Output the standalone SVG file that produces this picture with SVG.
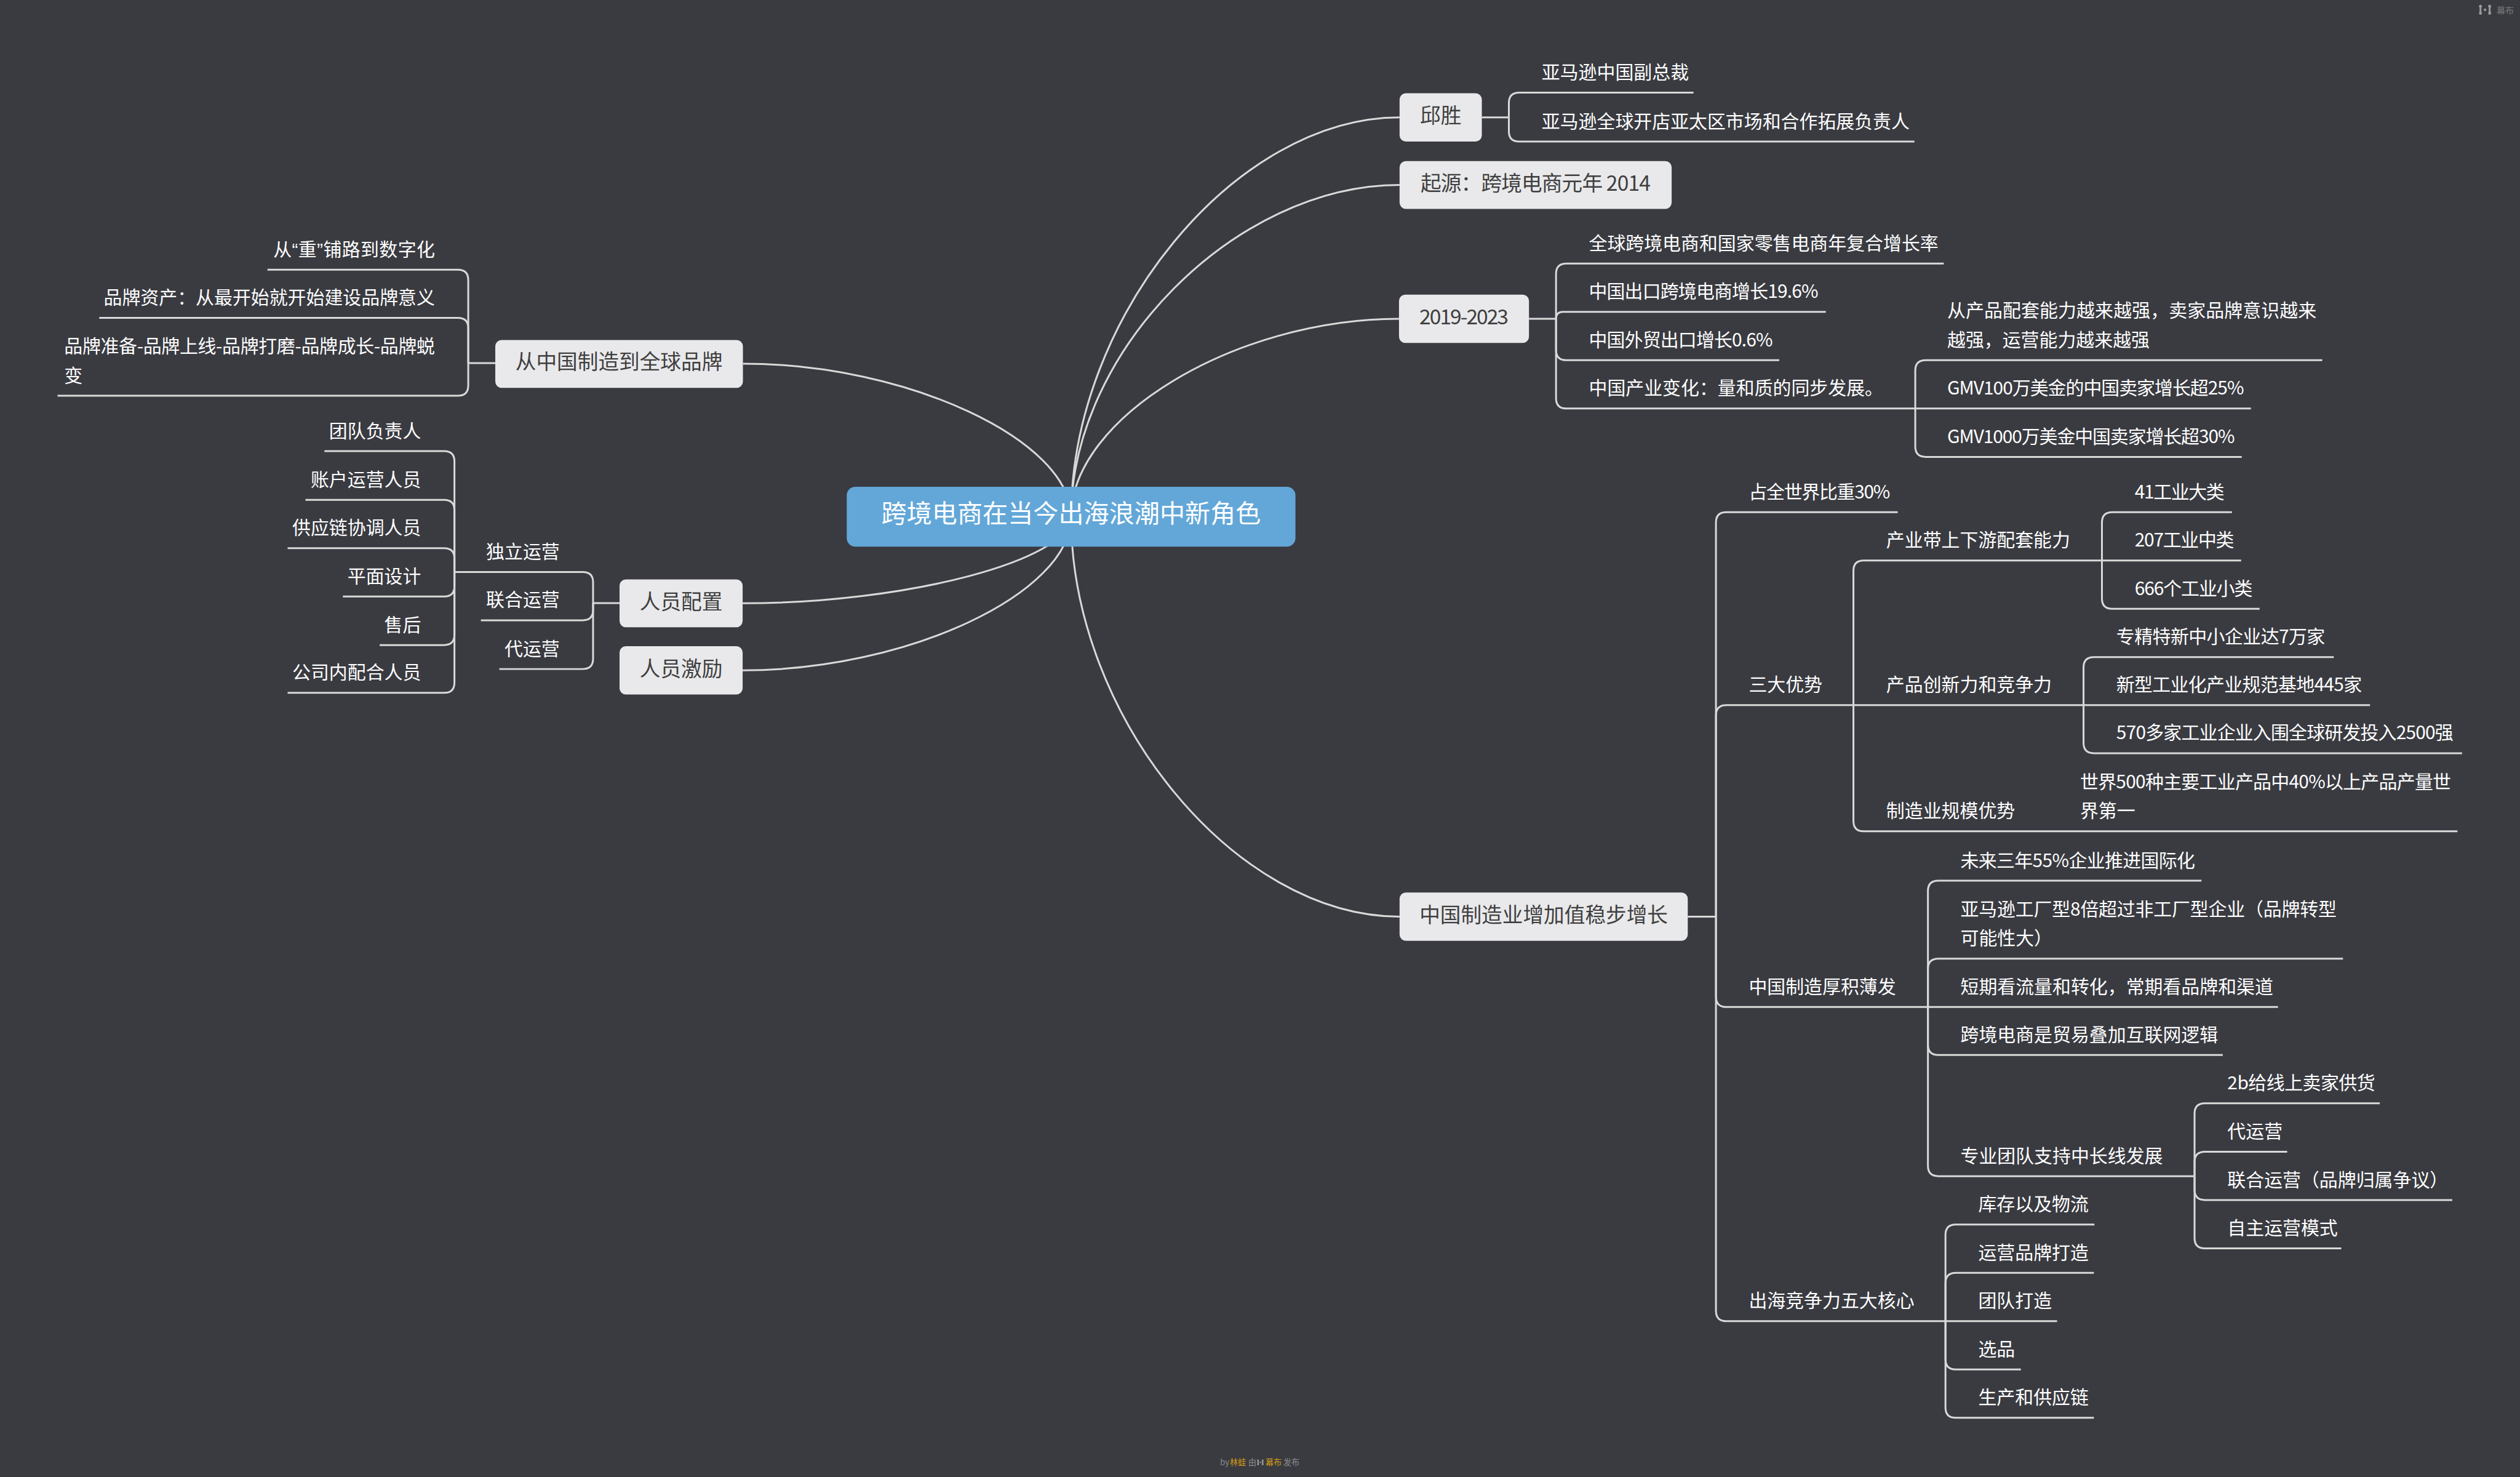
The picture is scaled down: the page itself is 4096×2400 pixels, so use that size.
<svg xmlns="http://www.w3.org/2000/svg" width="4096" height="2400" viewBox="0 0 4096 2400">
<defs>
<style>
.bg{fill:#3a3b41}
.ln{fill:none;stroke:#d9d9d9;stroke-width:3.2;stroke-linecap:butt;stroke-linejoin:round}
text{font-family:"Noto Sans CJK SC","Noto Sans",sans-serif}
.rootbox{fill:#63a7d8}
.roottx{fill:#ffffff;font-size:44px;text-anchor:middle}
.box{fill:#e9e9eb}
.btx{fill:#3f3f3f;font-size:36px;text-anchor:middle}
.lf{fill:#ffffff;font-size:32px}
.lfe{fill:#ffffff;font-size:32px;text-anchor:end}
.q{font-family:"Liberation Sans",sans-serif}
.wm{font-size:14px;fill:#8c8c8c}
.wo{fill:#d09a12}
.ic{fill:#9a9a9a}
.icl{stroke:#9a9a9a;stroke-width:2.4;fill:none}
</style>
</defs>
<rect class="bg" x="0" y="0" width="4096" height="2400"/>
<g transform="scale(0.935)">
<g id="connectors">
<path class="ln" d="M1862,898 C1862,551 2147.5,204 2433,204"/>
<path class="ln" d="M1862,898 C1862,609.75 2147.5,321.5 2433,321.5"/>
<path class="ln" d="M1862,898 C1862,726 2147,554 2432,554"/>
<path class="ln" d="M1862,898 C1862,1245.5 2147.5,1593 2433,1593"/>
<path class="ln" d="M1862,898 C1862,765 1576.75,632 1291.5,632"/>
<path class="ln" d="M1862,898 C1862,973.25 1576.5,1048.5 1291,1048.5"/>
<path class="ln" d="M1862,898 C1862,1031.5 1576.5,1165 1291,1165"/>
<path class="ln" d="M2576,204 H2623"/>
<path class="ln" d="M2623,204 V179 Q2623,161 2641,161 H2944"/>
<path class="ln" d="M2623,204 V228 Q2623,246 2641,246 H3328"/>
<path class="ln" d="M2658,554 H2705"/>
<path class="ln" d="M2705,554 V476 Q2705,458 2723,458 H3379"/>
<path class="ln" d="M2705,554 Q2705,542 2717,542 H3174"/>
<path class="ln" d="M2705,554 V608 Q2705,626 2723,626 H3093"/>
<path class="ln" d="M2705,554 V692 Q2705,710 2723,710 H3329.5"/>
<path class="ln" d="M3329.5,710 V644 Q3329.5,626 3347.5,626 H4037"/>
<path class="ln" d="M3329.5,710 H3913"/>
<path class="ln" d="M3329.5,710 V776 Q3329.5,794 3347.5,794 H3897"/>
<path class="ln" d="M2934,1593 H2983"/>
<path class="ln" d="M2983,1593 V908 Q2983,890 3001,890 H3299"/>
<path class="ln" d="M2983,1593 V1243.5 Q2983,1225.5 3001,1225.5 H3222"/>
<path class="ln" d="M2983,1593 V1732 Q2983,1750 3001,1750 H3351.5"/>
<path class="ln" d="M2983,1593 V2278 Q2983,2296 3001,2296 H3382"/>
<path class="ln" d="M3222,1225.5 V992 Q3222,974 3240,974 H3654"/>
<path class="ln" d="M3222,1225.5 H3622"/>
<path class="ln" d="M3222,1225.5 V1426.7 Q3222,1444.7 3240,1444.7 H4272"/>
<path class="ln" d="M3654,974 V908 Q3654,890 3672,890 H3880"/>
<path class="ln" d="M3654,974 H3896"/>
<path class="ln" d="M3654,974 V1040 Q3654,1058 3672,1058 H3928"/>
<path class="ln" d="M3622,1225.5 V1160 Q3622,1142 3640,1142 H4057"/>
<path class="ln" d="M3622,1225.5 H4120"/>
<path class="ln" d="M3622,1225.5 V1291 Q3622,1309 3640,1309 H4280"/>
<path class="ln" d="M3351.5,1750 V1548.5 Q3351.5,1530.5 3369.5,1530.5 H3827"/>
<path class="ln" d="M3351.5,1750 V1684 Q3351.5,1666 3369.5,1666 H4073"/>
<path class="ln" d="M3351.5,1750 H3960"/>
<path class="ln" d="M3351.5,1750 V1815.5 Q3351.5,1833.5 3369.5,1833.5 H3864"/>
<path class="ln" d="M3351.5,1750 V2026 Q3351.5,2044 3369.5,2044 H3815"/>
<path class="ln" d="M3815,2044 V1935.5 Q3815,1917.5 3833,1917.5 H4137"/>
<path class="ln" d="M3815,2044 V2019.5 Q3815,2001.5 3833,2001.5 H3976"/>
<path class="ln" d="M3815,2044 V2067.5 Q3815,2085.5 3833,2085.5 H4263"/>
<path class="ln" d="M3815,2044 V2151.5 Q3815,2169.5 3833,2169.5 H4070"/>
<path class="ln" d="M3382,2296 V2146 Q3382,2128 3400,2128 H3641"/>
<path class="ln" d="M3382,2296 V2230 Q3382,2212 3400,2212 H3640"/>
<path class="ln" d="M3382,2296 H3576"/>
<path class="ln" d="M3382,2296 V2362 Q3382,2380 3400,2380 H3513"/>
<path class="ln" d="M3382,2296 V2446 Q3382,2464 3400,2464 H3640"/>
<path class="ln" d="M861,631 H814"/>
<path class="ln" d="M814,631 V486.7 Q814,468.7 796,468.7 H465"/>
<path class="ln" d="M814,631 V570.3 Q814,552.3 796,552.3 H172.5"/>
<path class="ln" d="M814,631 V669.7 Q814,687.7 796,687.7 H100"/>
<path class="ln" d="M1077,1048 H1031"/>
<path class="ln" d="M1031,1048 V1012 Q1031,994 1013,994 H790"/>
<path class="ln" d="M1031,1048 V1060 Q1031,1078 1013,1078 H836"/>
<path class="ln" d="M1031,1048 V1144.7 Q1031,1162.7 1013,1162.7 H868"/>
<path class="ln" d="M790,994 V802 Q790,784 772,784 H564"/>
<path class="ln" d="M790,994 V886.7 Q790,868.7 772,868.7 H531"/>
<path class="ln" d="M790,994 V970.7 Q790,952.7 772,952.7 H500"/>
<path class="ln" d="M790,994 V1018.7 Q790,1036.7 772,1036.7 H596"/>
<path class="ln" d="M790,994 V1103 Q790,1121 772,1121 H660"/>
<path class="ln" d="M790,994 V1186 Q790,1204 772,1204 H500"/>
</g>

<g id="root"><rect class="rootbox" x="1472" y="846" width="780" height="104" rx="15"/><text class="roottx" x="1862" y="908.5">跨境电商在当今出海浪潮中新角色</text></g>

<g id="n-qiusheng"><rect class="box" x="2433" y="162" width="143" height="84" rx="11"/><text class="btx" x="2504.5" y="214">邱胜</text></g>
<g id="n-qs1"><text class="lf" x="2680" y="137">亚马逊中国副总裁</text></g>
<g id="n-qs2"><text class="lf" x="2680" y="222">亚马逊全球开店亚太区市场和合作拓展负责人</text></g>

<g id="n-origin"><rect class="box" x="2433" y="280" width="473" height="83" rx="11"/><text class="btx" x="2669.5" y="331.5" textLength="400" lengthAdjust="spacing">起源：跨境电商元年 2014</text></g>

<g id="n-2019"><rect class="box" x="2432" y="512" width="226" height="84" rx="11"/><text class="btx" x="2545" y="564" textLength="155" lengthAdjust="spacing">2019-2023</text></g>
<g id="n-2019a"><text class="lf" x="2762" y="434">全球跨境电商和国家零售电商年复合增长率</text></g>
<g id="n-2019b"><text class="lf" x="2762" y="518" textLength="399" lengthAdjust="spacing">中国出口跨境电商增长19.6%</text></g>
<g id="n-2019c"><text class="lf" x="2762" y="602" textLength="320" lengthAdjust="spacing">中国外贸出口增长0.6%</text></g>
<g id="n-2019d"><text class="lf" x="2762" y="686">中国产业变化：量和质的同步发展。</text></g>
<g id="n-2019d1"><text class="lf" x="3385" y="551" textLength="642" lengthAdjust="spacing">从产品配套能力越来越强，卖家品牌意识越来</text><text class="lf" x="3385" y="602">越强，运营能力越来越强</text></g>
<g id="n-2019d2"><text class="lf" x="3385" y="686" textLength="516" lengthAdjust="spacing">GMV100万美金的中国卖家增长超25%</text></g>
<g id="n-2019d3"><text class="lf" x="3385" y="770" textLength="500" lengthAdjust="spacing">GMV1000万美金中国卖家增长超30%</text></g>

<g id="n-mfg"><rect class="box" x="2433" y="1551" width="501" height="84" rx="11"/><text class="btx" x="2683.5" y="1603">中国制造业增加值稳步增长</text></g>
<g id="n-A"><text class="lf" x="3040" y="866" textLength="246" lengthAdjust="spacing">占全世界比重30%</text></g>
<g id="n-B"><text class="lf" x="3040" y="1201.5">三大优势</text></g>
<g id="n-B1"><text class="lf" x="3279" y="950">产业带上下游配套能力</text></g>
<g id="n-B1a"><text class="lf" x="3711" y="866" textLength="156" lengthAdjust="spacing">41工业大类</text></g>
<g id="n-B1b"><text class="lf" x="3711" y="950" textLength="173" lengthAdjust="spacing">207工业中类</text></g>
<g id="n-B1c"><text class="lf" x="3711" y="1034" textLength="205" lengthAdjust="spacing">666个工业小类</text></g>
<g id="n-B2"><text class="lf" x="3279" y="1201.5">产品创新力和竞争力</text></g>
<g id="n-B2a"><text class="lf" x="3679" y="1118" textLength="363" lengthAdjust="spacing">专精特新中小企业达7万家</text></g>
<g id="n-B2b"><text class="lf" x="3679" y="1201.5" textLength="427" lengthAdjust="spacing">新型工业化产业规范基地445家</text></g>
<g id="n-B2c"><text class="lf" x="3679" y="1285" textLength="586" lengthAdjust="spacing">570多家工业企业入围全球研发投入2500强</text></g>
<g id="n-B3"><text class="lf" x="3279" y="1420.7">制造业规模优势</text></g>
<g id="n-B3a"><text class="lf" x="3616" y="1369.7" textLength="645" lengthAdjust="spacing">世界500种主要工业产品中40%以上产品产量世</text><text class="lf" x="3616" y="1420.7">界第一</text></g>
<g id="n-C"><text class="lf" x="3040" y="1726">中国制造厚积薄发</text></g>
<g id="n-C1"><text class="lf" x="3408" y="1506.5" textLength="408" lengthAdjust="spacing">未来三年55%企业推进国际化</text></g>
<g id="n-C2"><text class="lf" x="3408" y="1591" textLength="654" lengthAdjust="spacing">亚马逊工厂型8倍超过非工厂型企业（品牌转型</text><text class="lf" x="3408" y="1642">可能性大）</text></g>
<g id="n-C3"><text class="lf" x="3408" y="1726">短期看流量和转化，常期看品牌和渠道</text></g>
<g id="n-C4"><text class="lf" x="3408" y="1809.5">跨境电商是贸易叠加互联网逻辑</text></g>
<g id="n-C5"><text class="lf" x="3408" y="2020">专业团队支持中长线发展</text></g>
<g id="n-C5a"><text class="lf" x="3872" y="1893.5" textLength="257" lengthAdjust="spacing">2b给线上卖家供货</text></g>
<g id="n-C5b"><text class="lf" x="3872" y="1977.5">代运营</text></g>
<g id="n-C5c"><text class="lf" x="3872" y="2061.5">联合运营（品牌归属争议）</text></g>
<g id="n-C5d"><text class="lf" x="3872" y="2145.5">自主运营模式</text></g>
<g id="n-D"><text class="lf" x="3040" y="2272">出海竞争力五大核心</text></g>
<g id="n-D1"><text class="lf" x="3439" y="2104">库存以及物流</text></g>
<g id="n-D2"><text class="lf" x="3439" y="2188">运营品牌打造</text></g>
<g id="n-D3"><text class="lf" x="3439" y="2272">团队打造</text></g>
<g id="n-D4"><text class="lf" x="3439" y="2356">选品</text></g>
<g id="n-D5"><text class="lf" x="3439" y="2440">生产和供应链</text></g>

<g id="n-brand"><rect class="box" x="861" y="591" width="430.5" height="83" rx="11"/><text class="btx" x="1076" y="642">从中国制造到全球品牌</text></g>
<g id="n-L1"><text class="lfe" x="756" y="444.7" textLength="281" lengthAdjust="spacing">从<tspan class="q">“</tspan>重<tspan class="q">”</tspan>铺路到数字化</text></g>
<g id="n-L2"><text class="lfe" x="756" y="528.3">品牌资产：从最开始就开始建设品牌意义</text></g>
<g id="n-L3"><text class="lf" x="111.6" y="612.7" textLength="644.5" lengthAdjust="spacing">品牌准备-品牌上线-品牌打磨-品牌成长-品牌蜕</text><text class="lf" x="111.6" y="663.7">变</text></g>

<g id="n-staff"><rect class="box" x="1077" y="1007" width="214" height="83" rx="11"/><text class="btx" x="1184" y="1058.5">人员配置</text></g>
<g id="n-P1"><text class="lfe" x="973" y="970">独立运营</text></g>
<g id="n-P1a"><text class="lfe" x="732" y="760">团队负责人</text></g>
<g id="n-P1b"><text class="lfe" x="732" y="844.7">账户运营人员</text></g>
<g id="n-P1c"><text class="lfe" x="732" y="928.7">供应链协调人员</text></g>
<g id="n-P1d"><text class="lfe" x="732" y="1012.7">平面设计</text></g>
<g id="n-P1e"><text class="lfe" x="732" y="1097">售后</text></g>
<g id="n-P1f"><text class="lfe" x="732" y="1180">公司内配合人员</text></g>
<g id="n-P2"><text class="lfe" x="973" y="1054">联合运营</text></g>
<g id="n-P3"><text class="lfe" x="973" y="1138.7">代运营</text></g>

<g id="n-incentive"><rect class="box" x="1077" y="1123" width="214" height="84" rx="11"/><text class="btx" x="1184" y="1175">人员激励</text></g>

<g id="watermark">
<text class="wm" y="2546"><tspan x="2121">by</tspan><tspan x="2138" class="wo">林蛙</tspan><tspan x="2170">由</tspan><tspan x="2200" class="wo">幕布</tspan><tspan x="2231">发布</tspan></text>
<path class="icl" d="M2187,2538 V2545 M2195,2538 V2545"/>
<circle class="ic" cx="2187" cy="2538" r="1.6"/><circle class="ic" cx="2187" cy="2545" r="1.6"/>
<circle class="ic" cx="2195" cy="2538" r="1.6"/><circle class="ic" cx="2195" cy="2545" r="1.6"/>
<circle class="ic" cx="2191" cy="2541.5" r="1.4"/>
</g>
<g id="logo">
<path class="icl" d="M4312,11 V23 M4328,11 V23" style="stroke-width:3.2"/>
<circle class="ic" cx="4312" cy="11" r="2.6"/><circle class="ic" cx="4312" cy="23" r="2.6"/>
<circle class="ic" cx="4328" cy="11" r="2.6"/><circle class="ic" cx="4328" cy="23" r="2.6"/>
<circle class="ic" cx="4320" cy="17" r="2.2"/>
<text class="wm" x="4340" y="24" style="font-size:15px;fill:#7a7a7a">幕布</text>
</g>
</g>
</svg>
